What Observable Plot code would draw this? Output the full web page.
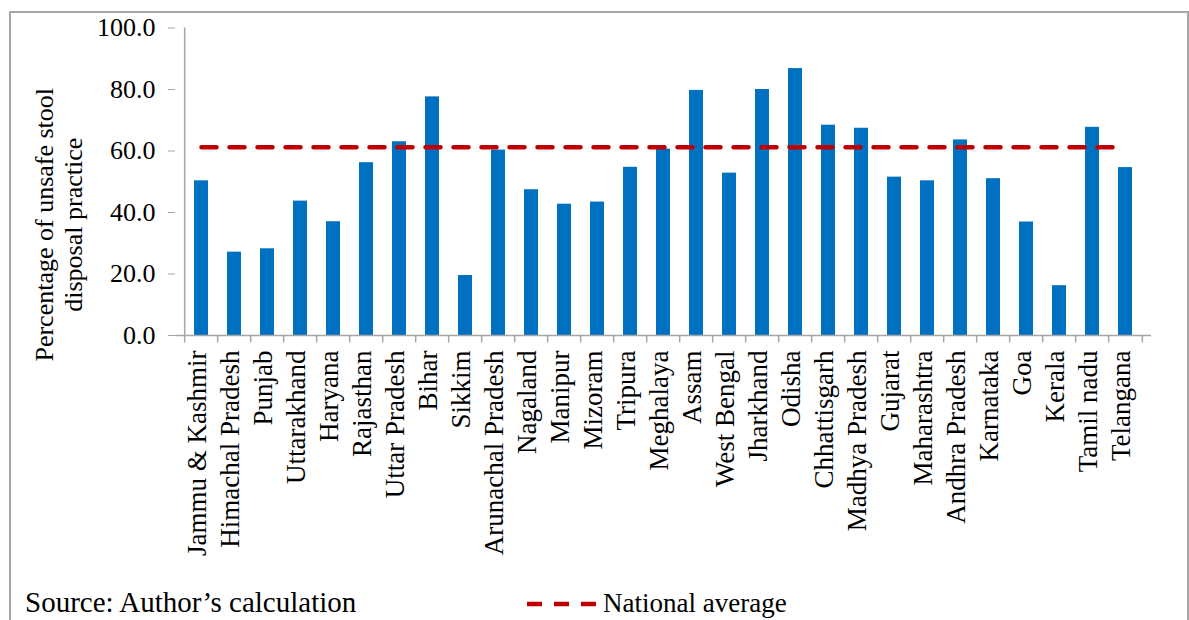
<!DOCTYPE html>
<html>
<head>
<meta charset="utf-8">
<script src="https://cdn.jsdelivr.net/npm/d3@7"></script>
<script src="https://cdn.jsdelivr.net/npm/@observablehq/plot@0.6"></script>
<style>
  html, body { margin: 0; padding: 0; background: #fff; overflow: hidden; }
  body { width: 1189px; height: 620px; position: relative; font-family: "Liberation Serif", "Times New Roman", serif; }
  #frame { position: absolute; left: 9px; top: 11px; width: 1176px; height: 700px; border: 2px solid #a6a6a6; border-bottom: none; }
  #chart { position: absolute; left: 0; top: 0; }
  #source { position: absolute; left: 25px; top: 588px; font-size: 29px; line-height: 1; white-space: nowrap; color: #000; }
  #legend { position: absolute; left: 527px; top: 588px; height: 32px; white-space: nowrap; }
  #legend svg { position: absolute; left: 0; top: 0; }
  #legend span { position: absolute; left: 76px; top: 2px; font-size: 27px; line-height: 1; color: #000; }
</style>
</head>
<body>
<div id="frame"></div>
<div id="chart"></div>
<div id="source">Source: Author’s calculation</div>
<div id="legend"><svg width="76" height="32"><line x1="0" y1="16" x2="72" y2="16" stroke="#C00000" stroke-width="4.5" stroke-dasharray="15,12"></line></svg><span>National average</span></div>
<script>
const states = ["Jammu & Kashmir","Himachal Pradesh","Punjab","Uttarakhand","Haryana","Rajasthan","Uttar Pradesh","Bihar","Sikkim","Arunachal Pradesh","Nagaland","Manipur","Mizoram","Tripura","Meghalaya","Assam","West Bengal","Jharkhand","Odisha","Chhattisgarh","Madhya Pradesh","Gujarat","Maharashtra","Andhra Pradesh","Karnataka","Goa","Kerala","Tamil nadu","Telangana"];
const values = [50.3,27.1,28.2,43.7,37.0,56.2,63.0,77.6,19.5,60.3,47.4,42.7,43.4,54.7,60.6,79.7,52.8,80.0,86.8,68.4,67.4,51.5,50.3,63.6,51.0,36.9,16.2,67.7,54.6];
const yTicks = [0,20,40,60,80,100];
const nationalAverage = 61.2;
const yLabel = "Percentage of unsafe stool\ndisposal practice";

const data = states.map((s, i) => ({state: s, value: values[i]}));
const W = 1189, ML = 175, MR = 38;
const step = (W - ML - MR) / states.length;
const axisGray = "#a6a6a6";

const chart = Plot.plot({
  width: W,
  height: 575,
  marginLeft: ML,
  marginRight: MR,
  marginTop: 27.5,
  marginBottom: 240,
  style: {fontFamily: "'Liberation Serif', 'Times New Roman', serif", fontSize: "26px", color: "#000", background: "transparent", overflow: "visible"},
  x: {domain: states, paddingInner: 0.57, paddingOuter: 0.285, label: null},
  y: {domain: [0, 100], label: null},
  marks: [
    Plot.barY(data, {x: "state", y: "value", fill: "#0070C0"}),
    Plot.ruleY([0], {stroke: axisGray, strokeWidth: 1.5}),
    Plot.ruleX([states[0]], {y1: 0, y2: 100, dx: -step / 2, stroke: axisGray, strokeWidth: 1.5}),
    Plot.ruleX(states, {y1: 0, y2: -2.4, dx: -step / 2, stroke: axisGray, strokeWidth: 1.5}),
    Plot.ruleX([states[states.length - 1]], {y1: 0, y2: -2.4, dx: step / 2, stroke: axisGray, strokeWidth: 1.5}),
    Plot.lineY(states, {x: d => d, y: () => nationalAverage, stroke: "#C00000", strokeWidth: 4.5, strokeDasharray: "15,13"}),
    Plot.axisY({ticks: yTicks, tickFormat: d => d.toFixed(1), tickSize: 7, tickPadding: 13, stroke: axisGray, fill: "#000", fontSize: 26, label: null}),
    Plot.axisX({tickRotate: -90, tickSize: 0, tickPadding: 15, dx: -4, fontSize: 27, fill: "#000", label: null}),
    Plot.text([yLabel], {text: d => d, frameAnchor: "left", textAnchor: "middle", dx: -117, dy: 43, rotate: -90, lineHeight: 1.12, fontSize: 26, fill: "#000"})
  ]
});
document.getElementById("chart").appendChild(chart);
</script>
</body>
</html>
